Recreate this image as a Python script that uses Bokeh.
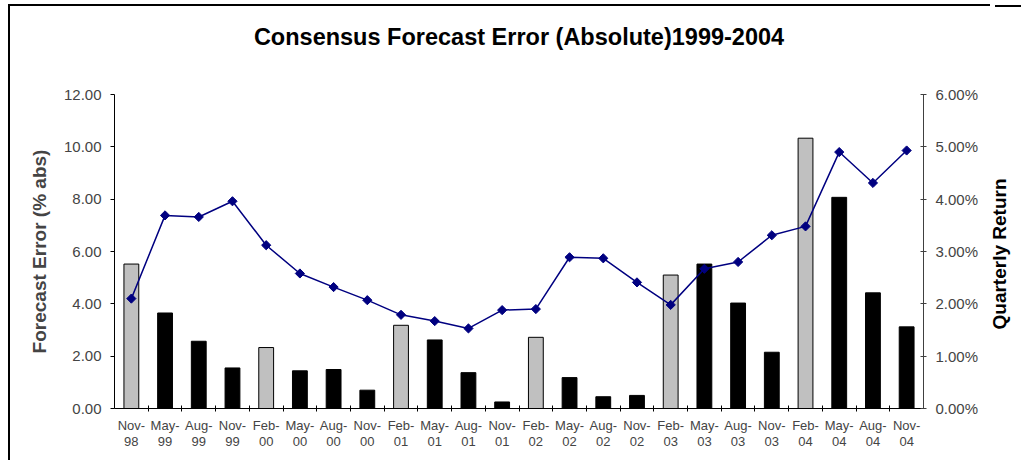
from bokeh.plotting import figure
from bokeh.models import Range1d, LinearAxis, FixedTicker, ColumnDataSource, Title, Div
from bokeh.layouts import row
from bokeh.embed import file_html
from bokeh.resources import INLINE

# ---- data ----
periods = ["Nov-98", "May-99", "Aug-99", "Nov-99", "Feb-00", "May-00", "Aug-00", "Nov-00",
           "Feb-01", "May-01", "Aug-01", "Nov-01", "Feb-02", "May-02", "Aug-02", "Nov-02",
           "Feb-03", "May-03", "Aug-03", "Nov-03", "Feb-04", "May-04", "Aug-04", "Nov-04"]
forecast_error = [5.52, 3.65, 2.57, 1.55, 2.33, 1.44, 1.49, 0.70,
                  3.18, 2.62, 1.37, 0.25, 2.72, 1.18, 0.45, 0.50,
                  5.10, 5.52, 4.03, 2.15, 10.33, 8.07, 4.42, 3.12]
quarterly_return = [2.10, 3.69, 3.66, 3.96, 3.12, 2.58, 2.32, 2.07,
                    1.79, 1.67, 1.53, 1.88, 1.90, 2.89, 2.87, 2.41,
                    1.98, 2.67, 2.80, 3.31, 3.48, 4.90, 4.31, 4.93]
highlighted = ["Nov-98", "Feb-00", "Feb-01", "Feb-02", "Feb-03", "Feb-04"]
left_ticks = [0, 2, 4, 6, 8, 10, 12]
left_labels = ["0.00", "2.00", "4.00", "6.00", "8.00", "10.00", "12.00"]
right_ticks = [0, 1, 2, 3, 4, 5, 6]
right_labels = ["0.00%", "1.00%", "2.00%", "3.00%", "4.00%", "5.00%", "6.00%"]

FONT = "Liberation Sans"
n = len(periods)
idx = list(range(n))

src = ColumnDataSource(dict(
    x=idx,
    err=forecast_error,
    ret=quarterly_return,
    fill=["#C0C0C0" if p in highlighted else "#000000" for p in periods],
))

fig = figure(width=990, height=460, output_backend="svg", toolbar_location=None,
             x_range=Range1d(-0.5, n - 0.5), y_range=Range1d(0, 12),
             min_border_left=114, min_border_right=67, min_border_top=94, min_border_bottom=52)
fig.extra_y_ranges = {"ret": Range1d(0, 6)}
fig.xgrid.visible = False
fig.ygrid.visible = False
fig.outline_line_color = None
fig.background_fill_color = "white"
fig.border_fill_color = None
# chart-area border (top and left edges) drawn behind the transparent canvas border
fig.styles = {
    "background": ("linear-gradient(#000, #000) 8px 4px / 2px 100% no-repeat, "
                   "linear-gradient(#000, #000) 8px 4px / 100% 2px no-repeat, #fff"),
}

# spacer between the frame and the chart title
fig.add_layout(Title(text=" ", text_font_size="25px", standoff=10), "above")

fig.title.text = "Consensus Forecast Error (Absolute)1999-2004"
fig.title.text_font = FONT
fig.title.text_font_size = "23.5px"
fig.title.text_font_style = "bold"
fig.title.align = "center"
fig.title.text_color = "black"
fig.title.standoff = 10

fig.vbar(x="x", top="err", width=0.44, source=src, fill_color="fill",
         line_color="black", line_width=1)
fig.line(x="x", y="ret", source=src, y_range_name="ret", line_color="#000080", line_width=1.5)
fig.scatter(x="x", y="ret", source=src, y_range_name="ret", marker="square", angle=0.785398,
            size=6.5, fill_color="#000080", line_color="#000080")

# left axis
ya = fig.yaxis[0]
ya.ticker = FixedTicker(ticks=left_ticks)
ya.major_label_overrides = {t: l for t, l in zip(left_ticks, left_labels)}
ya.axis_label = "Forecast Error (% abs)"
ya.axis_label_text_font = FONT
ya.axis_label_text_font_size = "19px"
ya.axis_label_text_font_style = "bold"
ya.axis_label_standoff = 11
ya.major_label_text_font = FONT
ya.major_label_text_font_size = "15px"
ya.major_label_standoff = 9
ya.major_tick_in = 0
ya.major_tick_out = 4
ya.minor_tick_line_color = None
ya.axis_line_color = "black"
ya.major_tick_line_color = "black"

# right axis
ra = LinearAxis(y_range_name="ret", ticker=FixedTicker(ticks=right_ticks))
ra.major_label_overrides = {t: l for t, l in zip(right_ticks, right_labels)}
ra.major_label_text_font = FONT
ra.major_label_text_font_size = "15px"
ra.major_label_standoff = 9
ra.major_tick_in = 3
ra.major_tick_out = 3
ra.minor_tick_line_color = None
ra.axis_line_color = "#404040"
ra.major_tick_line_color = "#404040"
fig.add_layout(ra, "right")

# bottom axis: month row with boundary ticks
xa = fig.xaxis[0]
xa.ticker = FixedTicker(ticks=idx, minor_ticks=[i + 0.5 for i in range(n - 1)])
xa.major_label_overrides = {i: periods[i].split("-")[0] + "-" for i in idx}
xa.major_tick_line_color = None
xa.major_tick_out = 0
xa.major_tick_in = 0
xa.minor_tick_in = 3
xa.minor_tick_out = 3
xa.minor_tick_line_color = "black"
xa.axis_line_color = "black"
xa.major_label_text_font = FONT
xa.major_label_text_font_size = "13px"
xa.major_label_standoff = 6

# bottom axis: year row
xa2 = LinearAxis(ticker=FixedTicker(ticks=idx))
xa2.major_label_overrides = {i: periods[i].split("-")[1] for i in idx}
xa2.axis_line_color = None
xa2.major_tick_line_color = None
xa2.minor_tick_line_color = None
xa2.major_tick_out = 0
xa2.major_tick_in = 0
xa2.major_label_text_font = FONT
xa2.major_label_text_font_size = "13px"
xa2.major_label_standoff = 1
fig.add_layout(xa2, "below")

# right axis title, reading bottom-to-top
right_title = Div(
    text=('<div style="position:absolute; left:5px; top:249px; '
          'transform:translate(-50%, -50%) rotate(-90deg); white-space:nowrap; '
          'font-family:\'Liberation Sans\'; font-weight:bold; font-size:19px; color:#000;">'
          'Quarterly Return</div>'),
    width=26, height=460,
    styles={"background": ("linear-gradient(#000, #000) 0 0 / 100% 2px no-repeat, #fff"),
            "position": "relative"},
)

p = row(fig, right_title, spacing=0)

open("out.html", "w").write(file_html(p, INLINE))
